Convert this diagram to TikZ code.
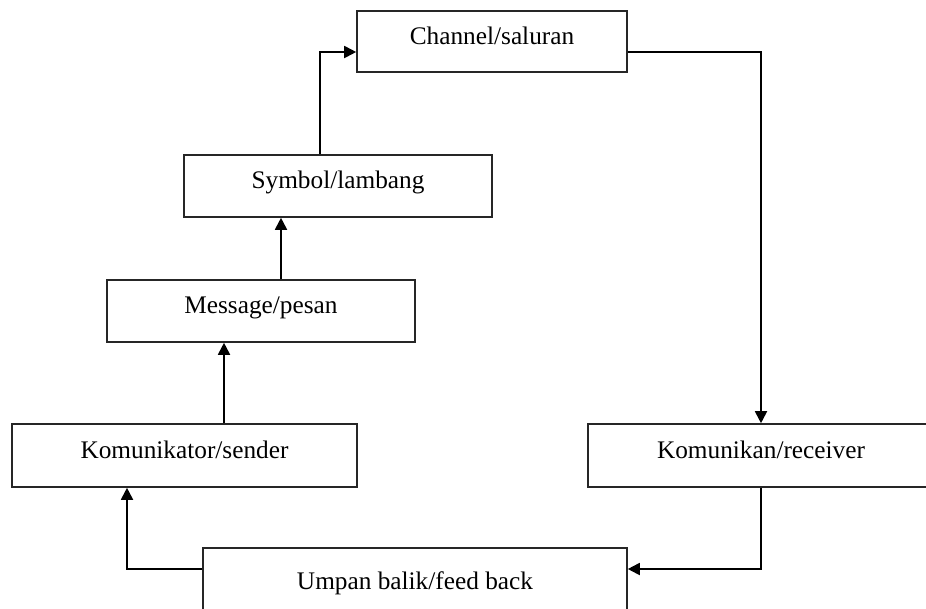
\documentclass[tikz,border=0pt]{standalone}
\usepackage{fontspec}
\setmainfont{Liberation Serif}
\usetikzlibrary{arrows.meta}
\begin{document}
\begin{tikzpicture}[x=1pt,y=-1pt,
  box/.style={draw=black!85, line width=1.6pt, rectangle, inner sep=0pt,
    font=\fontsize{25.3}{30}\selectfont, text height=0.7em, text depth=0.2em, align=center},
  arr/.style={line width=1.8pt, -{Triangle[length=12pt,width=12pt]}}]
\useasboundingbox (0,0) rectangle (926,608);
\clip (0,0) rectangle (926,608);
\fill[white] (0,0) rectangle (926,608);
% boxes
\node[box, minimum width=270pt, minimum height=61pt] (channel) at (492,41.5) {Channel/saluran};
\node[box, minimum width=308pt, minimum height=62pt] (symbol) at (338,186) {Symbol/lambang};
\node[box, minimum width=308pt, minimum height=62pt] (message) at (261,311) {Message/pesan};
\node[box, minimum width=345pt, minimum height=63pt] (komunikator) at (184.5,455.5) {Komunikator/sender};
\node[box, minimum width=346pt, minimum height=63pt] (komunikan) at (761,455.5) {Komunikan/receiver};
\node[box, minimum width=424pt, minimum height=77pt] (umpan) at (415,586.5) {Umpan balik/feed back};
% helper coordinates
\coordinate (xa) at (224,0);
\coordinate (xb) at (281,0);
\coordinate (xc) at (320,52);
\coordinate (xd) at (761,52);
\coordinate (yfb) at (0,569);
\coordinate (xe) at (127,569);
% connectors
\draw[arr] (komunikator.north -| xa) -- (message.south -| xa);
\draw[arr] (message.north -| xb) -- (symbol.south -| xb);
\draw[arr] (symbol.north -| xc) -- (xc) -- (channel.west |- xc);
\draw[arr] (channel.east |- xd) -- (xd) -- (komunikan.north);
\draw[arr] (komunikan.south) -- (komunikan.south |- yfb) -- (umpan.east |- yfb);
\draw[arr] (umpan.west |- yfb) -- (xe) -- (komunikator.south -| xe);
\end{tikzpicture}
\end{document}
